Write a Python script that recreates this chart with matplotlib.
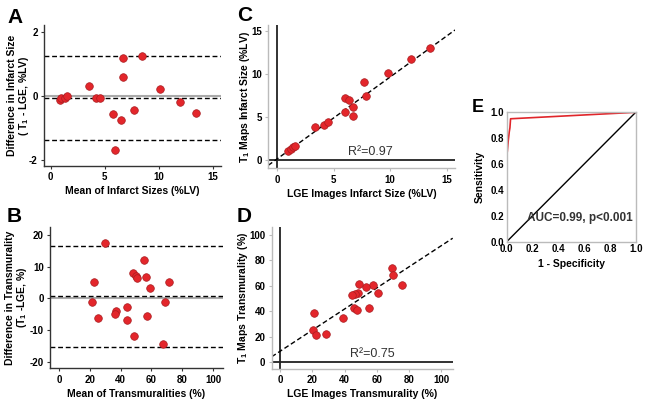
import numpy as np
import matplotlib.pyplot as plt

plt.rcParams['font.family'] = ['Liberation Sans', 'DejaVu Sans']
plt.rcParams['font.weight'] = 'bold'
plt.rcParams['axes.labelweight'] = 'bold'
plt.rcParams['axes.unicode_minus'] = False
plt.rcParams['mathtext.fontset'] = 'custom'
plt.rcParams['mathtext.rm'] = 'Liberation Sans:bold'
plt.rcParams['mathtext.it'] = 'Liberation Sans:bold'
plt.rcParams['mathtext.bf'] = 'Liberation Sans:bold'

# A: Bland-Altman infarct size
a_mean = [0.88, 1.0, 1.3, 1.5, 3.55, 4.18, 4.55, 5.8, 5.97, 6.47, 6.73, 6.73, 7.7, 8.42, 10.1, 11.98, 13.45]
a_diff = [-0.13, -0.06, -0.07, 0.0, 0.32, -0.07, -0.07, -0.57, -1.69, -0.75, 1.21, 0.59, -0.42, 1.25, 0.21, -0.18, -0.54]
a_bias, a_upper, a_lower = -0.07, 1.26, -1.37

# B: Bland-Altman transmurality
b_mean = [29.9, 55.0, 48.2, 50.0, 50.8, 56.3, 59.1, 71.6, 22.7, 21.4, 69.0, 25.1, 37.0, 36.4, 44.0, 44.0, 56.9, 48.7, 67.7]
b_diff = [17.5, 12.1, 7.9, 7.1, 6.3, 6.6, 3.2, 5.0, 5.0, -1.3, -1.1, -6.1, -4.0, -4.9, -2.8, -6.7, -5.6, -11.8, -14.3]
b_bias, b_upper, b_lower = 0.6, 16.6, -15.5

# C: infarct size correlation
c_lge = [1.0, 1.21, 1.39, 1.57, 3.36, 4.16, 4.49, 6.02, 6.35, 6.04, 6.75, 6.75, 7.7, 7.85, 9.85, 11.86, 13.54]
c_t1 = [1.04, 1.28, 1.51, 1.66, 3.79, 4.1, 4.37, 7.16, 6.93, 5.53, 6.11, 5.1, 9.01, 7.42, 10.13, 11.72, 13.03]
c_slope, c_icpt = 0.95, 0.12

# D: transmurality correlation
d_lge = [69.3, 70.1, 75.5, 60.4, 57.7, 53.1, 49.0, 48.2, 46.5, 44.7, 46.1, 47.6, 55.0, 39.3, 21.3, 20.5, 22.3, 28.5]
d_t1 = [74.2, 68.5, 60.7, 54.7, 60.7, 59.4, 61.2, 54.2, 53.6, 52.6, 42.9, 40.9, 42.9, 35.1, 39.0, 25.7, 21.3, 22.6]
d_slope, d_icpt = 0.827, 8.8

# E: ROC
roc_fpr = [0.0, 0.0, 0.005, 0.012, 0.02, 0.025, 0.03, 1.0]
roc_tpr = [0.0, 0.66, 0.70, 0.78, 0.85, 0.88, 0.95, 1.0]

W, H = 649, 405
fig = plt.figure(figsize=(W / 100, H / 100), dpi=100)


def box(l, t, r, b):
    return [l / W, (H - b) / H, (r - l) / W, (b - t) / H]


red = '#e3262b'
edge = '#a81c20'
dash = (0, (3.5, 2))


def pts(ax, x, y):
    ax.scatter(x, y, s=30, c=red, edgecolors=edge, linewidths=0.5, zorder=5)


def style(ax, spine_color):
    for s in ['top', 'right']:
        ax.spines[s].set_visible(False)
    for s in ['left', 'bottom']:
        ax.spines[s].set_color(spine_color)
        ax.spines[s].set_linewidth(1)
    ax.tick_params(labelsize=7, length=2.5, width=0.8, color=spine_color, pad=2)
    for lab in ax.get_xticklabels() + ax.get_yticklabels():
        lab.set_fontweight('bold')


# A
axA = fig.add_axes(box(44, 25, 220.7, 166))
axA.axhline(0, color='#aaaaaa', lw=1.5)
for v in [a_upper, a_bias, a_lower]:
    axA.axhline(v, color='black', lw=1, ls=dash)
pts(axA, a_mean, a_diff)
axA.set_xlim(-0.62, 15.74)
axA.set_ylim(-2.19, 2.23)
axA.set_xticks([0, 5, 10, 15])
axA.set_yticks([-2, 0, 2])
axA.set_xlabel('Mean of Infarct Sizes (%LV)', fontsize=7.5, labelpad=3)
axA.set_ylabel('Difference in Infarct Size\n( T$_1$ - LGE, %LV)', fontsize=7.5, linespacing=1.05)
axA.yaxis.set_label_coords(-0.072, 0.5)
style(axA, '#333333')

# B
axB = fig.add_axes(box(50, 226.7, 222.7, 368.3))
axB.axhline(0, color='#aaaaaa', lw=1.5)
for v in [b_upper, b_bias, b_lower]:
    axB.axhline(v, color='black', lw=1, ls=dash)
pts(axB, b_mean, b_diff)
axB.set_xlim(-5.8, 106.3)
axB.set_ylim(-22.1, 22.6)
axB.set_xticks([0, 20, 40, 60, 80, 100])
axB.set_yticks([-20, -10, 0, 10, 20])
axB.set_xlabel('Mean of Transmuralities (%)', fontsize=7.5, labelpad=3)
axB.set_ylabel('Difference in Transmurality\n(T$_1$ -LGE, %)', fontsize=7.5, linespacing=1.05)
axB.yaxis.set_label_coords(-0.12, 0.5)
style(axB, '#333333')

# C
axC = fig.add_axes(box(268.3, 25, 455, 168.3))
axC.axhline(0, color='#222222', lw=1.3)
axC.axvline(0, color='#222222', lw=1.3)
xs = np.array([-0.77, 15.75])
axC.plot(xs, c_slope * xs + c_icpt, color='black', lw=1, ls=dash)
pts(axC, c_lge, c_t1)
axC.set_xlim(-0.77, 15.75)
axC.set_ylim(-0.96, 15.66)
axC.set_xticks([0, 5, 10, 15])
axC.set_yticks([0, 5, 10, 15])
axC.text(8.3, 0.25, 'R²=0.97', fontsize=9, fontweight='normal', color='#333333', ha='center', va='bottom')
axC.set_xlabel('LGE Images Infarct Size (%LV)', fontsize=7.5, labelpad=3)
axC.set_ylabel('T$_1$ Maps Infarct Size (%LV)', fontsize=7.5)
axC.yaxis.set_label_coords(-0.087, 0.5)
style(axC, '#bbbbbb')

# D
axD = fig.add_axes(box(271.7, 226.7, 452.7, 369))
axD.axhline(0, color='#222222', lw=1.3)
axD.axvline(0, color='#222222', lw=1.3)
xs = np.array([-5.2, 107])
axD.plot(xs, d_slope * xs + d_icpt, color='black', lw=1, ls=dash)
pts(axD, d_lge, d_t1)
axD.set_xlim(-5.2, 107)
axD.set_ylim(-5.1, 106.3)
axD.set_xticks([0, 20, 40, 60, 80, 100])
axD.set_yticks([0, 20, 40, 60, 80, 100])
axD.text(57, 2.0, 'R²=0.75', fontsize=9, fontweight='normal', color='#333333', ha='center', va='bottom')
axD.set_xlabel('LGE Images Transmurality (%)', fontsize=7.5, labelpad=3)
axD.set_ylabel('T$_1$ Maps Transmurality (%)', fontsize=7.5)
axD.yaxis.set_label_coords(-0.12, 0.5)
style(axD, '#bbbbbb')

# E
axE = fig.add_axes(box(506.7, 112.3, 635.7, 241.7))
axE.plot([0, 1], [0, 1], color='black', lw=1)
axE.plot(roc_fpr, roc_tpr, color='#e0262b', lw=1.2)
axE.set_xlim(0, 1)
axE.set_ylim(0, 1)
axE.set_xticks(np.linspace(0, 1, 6))
axE.set_yticks(np.linspace(0, 1, 6))
axE.xaxis.set_major_formatter(plt.FormatStrFormatter('%.1f'))
axE.yaxis.set_major_formatter(plt.FormatStrFormatter('%.1f'))
for s in axE.spines.values():
    s.set_color('#bbbbbb')
    s.set_linewidth(1)
axE.tick_params(labelsize=7, length=0, pad=2)
for lab in axE.get_xticklabels() + axE.get_yticklabels():
    lab.set_fontweight('bold')
axE.text(0.57, 0.18, 'AUC=0.99, p<0.001', fontsize=8.5, color='#333333', ha='center', va='center')
axE.set_xlabel('1 - Specificity', fontsize=7.5, labelpad=3)
axE.set_ylabel('Sensitivity', fontsize=7.5)
axE.yaxis.set_label_coords(-0.168, 0.5)

# panel letters
for lbl, x, y, fs in [('A', 7, 8, 15), ('B', 7, 207, 15), ('C', 237, 6, 15),
                      ('D', 237, 207, 15), ('E', 472, 99, 13)]:
    fig.text(x / W, 1 - y / H, lbl, fontsize=fs, fontweight='heavy', ha='left', va='top')

fig.savefig('out.png', dpi=100)
